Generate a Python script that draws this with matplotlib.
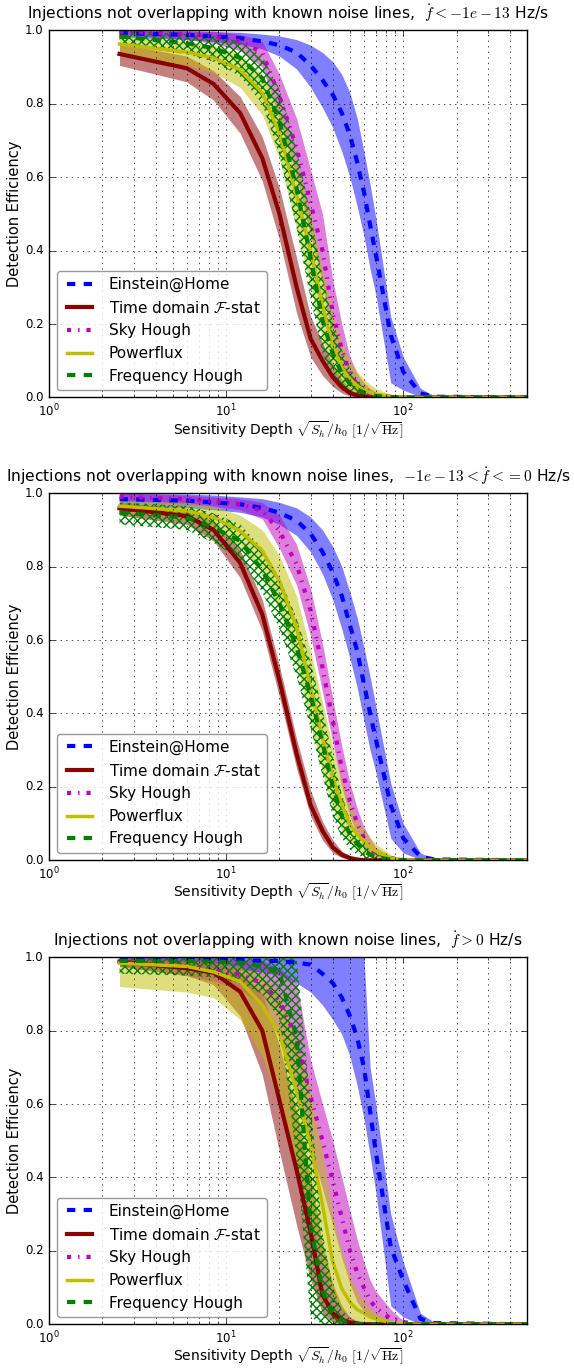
import numpy as np
import matplotlib
matplotlib.use("Agg")
import matplotlib.pyplot as plt

plt.style.use("classic")

# sensitivity depth grid (same for every pipeline)
depth = [2.5, 6, 8.5, 12, 16, 20, 25, 30, 35, 40, 45, 50, 55, 60, 65, 70, 85, 100, 125, 150, 500]

# ---- panel 1: fdot < -1e-13 ----
eah1 = [0.993, 0.988, 0.984, 0.979, 0.970, 0.960, 0.940, 0.905, 0.865, 0.825, 0.775, 0.715, 0.640, 0.560, 0.470, 0.390, 0.170, 0.070, 0.011, 0.002, 0.0]
eah1_hi = [1.0, 0.998, 0.997, 0.995, 0.990, 0.985, 0.975, 0.960, 0.940, 0.915, 0.880, 0.830, 0.760, 0.670, 0.580, 0.490, 0.220, 0.110, 0.025, 0.004, 0.0]
eah1_lo = [0.982, 0.975, 0.970, 0.962, 0.950, 0.930, 0.895, 0.845, 0.790, 0.735, 0.670, 0.600, 0.520, 0.440, 0.350, 0.280, 0.040, 0.020, 0.002, 0.0, 0.0]
td1 = [0.936, 0.897, 0.854, 0.775, 0.652, 0.500, 0.300, 0.160, 0.100, 0.055, 0.028, 0.012, 0.006, 0.003, 0.001, 0.0, 0.0, 0.0, 0.0, 0.0, 0.0]
td1_hi = [0.965, 0.930, 0.890, 0.820, 0.710, 0.570, 0.380, 0.220, 0.150, 0.090, 0.050, 0.025, 0.012, 0.006, 0.003, 0.001, 0.0, 0.0, 0.0, 0.0, 0.0]
td1_lo = [0.905, 0.860, 0.810, 0.720, 0.590, 0.430, 0.230, 0.110, 0.060, 0.030, 0.012, 0.004, 0.001, 0.0, 0.0, 0.0, 0.0, 0.0, 0.0, 0.0, 0.0]
sh1 = [0.997, 0.990, 0.985, 0.970, 0.940, 0.820, 0.680, 0.530, 0.400, 0.230, 0.130, 0.065, 0.035, 0.020, 0.010, 0.006, 0.002, 0.0, 0.0, 0.0, 0.0]
sh1_hi = [1.0, 1.0, 0.998, 0.990, 0.970, 0.880, 0.760, 0.620, 0.500, 0.320, 0.200, 0.110, 0.065, 0.040, 0.025, 0.015, 0.005, 0.001, 0.0, 0.0, 0.0]
sh1_lo = [0.990, 0.975, 0.965, 0.945, 0.900, 0.760, 0.600, 0.440, 0.310, 0.150, 0.070, 0.030, 0.013, 0.006, 0.003, 0.001, 0.0, 0.0, 0.0, 0.0, 0.0]
pf1 = [0.963, 0.941, 0.925, 0.893, 0.830, 0.720, 0.550, 0.400, 0.250, 0.140, 0.080, 0.050, 0.032, 0.020, 0.013, 0.008, 0.003, 0.001, 0.0, 0.0, 0.0]
pf1_hi = [0.985, 0.970, 0.960, 0.935, 0.880, 0.790, 0.640, 0.500, 0.350, 0.230, 0.150, 0.100, 0.070, 0.050, 0.035, 0.025, 0.008, 0.002, 0.0, 0.0, 0.0]
pf1_lo = [0.935, 0.905, 0.885, 0.845, 0.770, 0.650, 0.460, 0.300, 0.160, 0.080, 0.040, 0.020, 0.010, 0.005, 0.003, 0.001, 0.0, 0.0, 0.0, 0.0, 0.0]
fh1 = [0.984, 0.965, 0.952, 0.925, 0.870, 0.750, 0.570, 0.380, 0.210, 0.120, 0.065, 0.037, 0.022, 0.013, 0.008, 0.004, 0.001, 0.0, 0.0, 0.0, 0.0]
fh1_hi = [1.0, 0.990, 0.985, 0.970, 0.930, 0.840, 0.680, 0.500, 0.330, 0.210, 0.130, 0.080, 0.050, 0.030, 0.020, 0.012, 0.003, 0.0, 0.0, 0.0, 0.0]
fh1_lo = [0.962, 0.935, 0.915, 0.875, 0.800, 0.660, 0.460, 0.270, 0.120, 0.050, 0.020, 0.008, 0.003, 0.001, 0.0, 0.0, 0.0, 0.0, 0.0, 0.0, 0.0]

# ---- panel 2: -1e-13 < fdot <= 0 ----
eah2 = [0.984, 0.980, 0.975, 0.970, 0.960, 0.947, 0.925, 0.890, 0.840, 0.785, 0.720, 0.640, 0.570, 0.480, 0.400, 0.330, 0.150, 0.060, 0.010, 0.002, 0.0]
eah2_hi = [1.0, 0.998, 0.995, 0.990, 0.985, 0.975, 0.960, 0.935, 0.900, 0.855, 0.800, 0.730, 0.660, 0.580, 0.500, 0.420, 0.210, 0.100, 0.020, 0.004, 0.0]
eah2_lo = [0.965, 0.960, 0.955, 0.948, 0.935, 0.915, 0.885, 0.840, 0.780, 0.710, 0.630, 0.550, 0.470, 0.380, 0.300, 0.240, 0.060, 0.020, 0.002, 0.0, 0.0]
td2 = [0.959, 0.938, 0.900, 0.810, 0.670, 0.490, 0.290, 0.150, 0.080, 0.035, 0.015, 0.006, 0.002, 0.0, 0.0, 0.0, 0.0, 0.0, 0.0, 0.0, 0.0]
td2_hi = [0.975, 0.955, 0.925, 0.845, 0.710, 0.530, 0.330, 0.190, 0.105, 0.055, 0.025, 0.012, 0.005, 0.002, 0.0, 0.0, 0.0, 0.0, 0.0, 0.0, 0.0]
td2_lo = [0.940, 0.915, 0.870, 0.770, 0.625, 0.445, 0.250, 0.120, 0.055, 0.020, 0.007, 0.002, 0.0, 0.0, 0.0, 0.0, 0.0, 0.0, 0.0, 0.0, 0.0]
sh2 = [0.990, 0.984, 0.979, 0.970, 0.952, 0.897, 0.806, 0.680, 0.525, 0.380, 0.250, 0.160, 0.100, 0.060, 0.035, 0.020, 0.006, 0.001, 0.0, 0.0, 0.0]
sh2_hi = [1.0, 0.995, 0.990, 0.985, 0.975, 0.940, 0.860, 0.740, 0.590, 0.440, 0.310, 0.210, 0.140, 0.090, 0.060, 0.035, 0.010, 0.002, 0.0, 0.0, 0.0]
sh2_lo = [0.980, 0.970, 0.965, 0.955, 0.930, 0.850, 0.750, 0.610, 0.460, 0.320, 0.200, 0.120, 0.070, 0.040, 0.020, 0.010, 0.002, 0.0, 0.0, 0.0, 0.0]
pf2 = [0.965, 0.952, 0.934, 0.897, 0.843, 0.760, 0.634, 0.470, 0.334, 0.225, 0.152, 0.097, 0.070, 0.052, 0.035, 0.025, 0.006, 0.001, 0.0, 0.0, 0.0]
pf2_hi = [0.980, 0.975, 0.965, 0.940, 0.900, 0.830, 0.720, 0.570, 0.430, 0.310, 0.220, 0.150, 0.110, 0.085, 0.060, 0.045, 0.015, 0.004, 0.0, 0.0, 0.0]
pf2_lo = [0.950, 0.930, 0.905, 0.855, 0.780, 0.680, 0.540, 0.370, 0.240, 0.140, 0.080, 0.050, 0.030, 0.020, 0.012, 0.008, 0.002, 0.0, 0.0, 0.0, 0.0]
fh2 = [0.947, 0.934, 0.906, 0.870, 0.790, 0.700, 0.580, 0.450, 0.320, 0.200, 0.120, 0.070, 0.045, 0.025, 0.015, 0.008, 0.002, 0.0, 0.0, 0.0, 0.0]
fh2_hi = [0.975, 0.965, 0.945, 0.915, 0.850, 0.770, 0.660, 0.540, 0.410, 0.280, 0.180, 0.110, 0.070, 0.045, 0.030, 0.018, 0.005, 0.0, 0.0, 0.0, 0.0]
fh2_lo = [0.915, 0.900, 0.865, 0.820, 0.730, 0.630, 0.500, 0.360, 0.230, 0.120, 0.060, 0.030, 0.015, 0.007, 0.003, 0.001, 0.0, 0.0, 0.0, 0.0, 0.0]

# ---- panel 3: fdot > 0 ----
eah3 = [0.995, 0.995, 0.995, 0.993, 0.990, 0.990, 0.985, 0.980, 0.955, 0.930, 0.890, 0.840, 0.780, 0.700, 0.580, 0.470, 0.210, 0.120, 0.015, 0.003, 0.0]
eah3_hi = [1.0, 1.0, 1.0, 1.0, 1.0, 1.0, 1.0, 1.0, 1.0, 1.0, 1.0, 1.0, 1.0, 1.0, 0.700, 0.600, 0.300, 0.170, 0.030, 0.005, 0.0]
eah3_lo = [0.975, 0.972, 0.970, 0.965, 0.960, 0.950, 0.930, 0.905, 0.870, 0.830, 0.790, 0.730, 0.650, 0.560, 0.460, 0.360, 0.050, 0.020, 0.0, 0.0, 0.0]
td3 = [0.988, 0.970, 0.958, 0.906, 0.800, 0.610, 0.420, 0.250, 0.080, 0.030, 0.012, 0.005, 0.002, 0.0, 0.0, 0.0, 0.0, 0.0, 0.0, 0.0, 0.0]
td3_hi = [0.995, 0.990, 0.985, 0.960, 0.900, 0.760, 0.580, 0.400, 0.220, 0.110, 0.050, 0.020, 0.010, 0.005, 0.002, 0.0, 0.0, 0.0, 0.0, 0.0, 0.0]
td3_lo = [0.975, 0.950, 0.925, 0.840, 0.680, 0.470, 0.270, 0.120, 0.030, 0.005, 0.0, 0.0, 0.0, 0.0, 0.0, 0.0, 0.0, 0.0, 0.0, 0.0, 0.0]
sh3 = [0.990, 0.975, 0.965, 0.952, 0.930, 0.880, 0.780, 0.620, 0.500, 0.390, 0.290, 0.200, 0.140, 0.100, 0.065, 0.045, 0.015, 0.006, 0.0, 0.0, 0.0]
sh3_hi = [1.0, 1.0, 1.0, 0.995, 0.990, 0.970, 0.930, 0.720, 0.600, 0.500, 0.400, 0.310, 0.230, 0.170, 0.120, 0.090, 0.040, 0.010, 0.0, 0.0, 0.0]
sh3_lo = [0.975, 0.950, 0.935, 0.910, 0.870, 0.790, 0.640, 0.480, 0.370, 0.270, 0.180, 0.110, 0.060, 0.035, 0.020, 0.010, 0.002, 0.0, 0.0, 0.0, 0.0]
pf3 = [0.984, 0.975, 0.960, 0.934, 0.870, 0.790, 0.634, 0.488, 0.325, 0.170, 0.097, 0.060, 0.040, 0.030, 0.020, 0.015, 0.004, 0.001, 0.0, 0.0, 0.0]
pf3_hi = [0.995, 0.990, 0.985, 0.975, 0.950, 0.900, 0.780, 0.640, 0.470, 0.300, 0.200, 0.130, 0.090, 0.065, 0.045, 0.030, 0.008, 0.002, 0.0, 0.0, 0.0]
pf3_lo = [0.920, 0.905, 0.890, 0.830, 0.730, 0.600, 0.440, 0.300, 0.170, 0.080, 0.040, 0.020, 0.010, 0.005, 0.002, 0.0, 0.0, 0.0, 0.0, 0.0, 0.0]
fh3 = [0.990, 0.990, 0.988, 0.985, 0.975, 0.960, 0.780, 0.270, 0.090, 0.030, 0.010, 0.004, 0.001, 0.0, 0.0, 0.0, 0.0, 0.0, 0.0, 0.0, 0.0]
fh3_hi = [1.0, 1.0, 1.0, 1.0, 1.0, 1.0, 1.0, 0.600, 0.250, 0.100, 0.040, 0.015, 0.005, 0.002, 0.0, 0.0, 0.0, 0.0, 0.0, 0.0, 0.0]
fh3_lo = [0.955, 0.950, 0.945, 0.930, 0.900, 0.830, 0.450, 0.020, 0.0, 0.0, 0.0, 0.0, 0.0, 0.0, 0.0, 0.0, 0.0, 0.0, 0.0, 0.0, 0.0]

titles = [r"Injections not overlapping with known noise lines,  $\dot{f} < -1e-13$ Hz/s",
          r"Injections not overlapping with known noise lines,  $-1e-13 < \dot{f} <= 0$ Hz/s",
          r"Injections not overlapping with known noise lines,  $\dot{f} > 0$ Hz/s"]

panels = [
    (eah1, eah1_lo, eah1_hi, td1, td1_lo, td1_hi, sh1, sh1_lo, sh1_hi, pf1, pf1_lo, pf1_hi, fh1, fh1_lo, fh1_hi),
    (eah2, eah2_lo, eah2_hi, td2, td2_lo, td2_hi, sh2, sh2_lo, sh2_hi, pf2, pf2_lo, pf2_hi, fh2, fh2_lo, fh2_hi),
    (eah3, eah3_lo, eah3_hi, td3, td3_lo, td3_hi, sh3, sh3_lo, sh3_hi, pf3, pf3_lo, pf3_hi, fh3, fh3_lo, fh3_hi),
]

fig = plt.figure(figsize=(5.74, 13.72), dpi=100, facecolor="white")
bottoms = [0.7103, 0.3730, 0.0348]

for k in range(3):
    (eah, eah_lo, eah_hi, td, td_lo, td_hi, sh, sh_lo, sh_hi,
     pf, pf_lo, pf_hi, fh, fh_lo, fh_hi) = panels[k]
    ax = fig.add_axes([0.0854, bottoms[k], 0.8328, 0.2675])
    ax.set_xscale("log")

    # error bands
    ax.fill_between(depth, eah_lo, eah_hi, color="b", alpha=0.5, lw=0)
    ax.fill_between(depth, td_lo, td_hi, color="darkred", alpha=0.5, lw=0)
    ax.fill_between(depth, sh_lo, sh_hi, color="m", alpha=0.5, lw=0)
    ax.fill_between(depth, pf_lo, pf_hi, color="y", alpha=0.5, lw=0)
    ax.fill_between(depth, fh_lo, fh_hi, facecolor="none", edgecolor="g", hatch="xxxx", lw=0)

    # central curves
    ax.plot(depth, eah, "b--", lw=3, label="Einstein@Home")
    ax.plot(depth, td, "-", color="darkred", lw=3, label=r"Time domain $\mathcal{F}$-stat")
    ax.plot(depth, sh, "m-.", lw=3, label="Sky Hough")
    ax.plot(depth, pf, "y-", lw=2.5, label="Powerflux")
    ax.plot(depth, fh, "g--", lw=3, label="Frequency Hough")

    ax.set_xlim(1, 500)
    ax.set_ylim(0, 1)
    ax.grid(True, which="both")
    ax.tick_params(labelsize=8.5)
    ax.set_xlabel(r"Sensitivity Depth $\sqrt{S_h}/h_0\ [1/\sqrt{\mathrm{Hz}}]$", fontsize=10, labelpad=0)
    ax.set_ylabel("Detection Efficiency", fontsize=10.5, labelpad=2)
    ax.set_title(titles[k], fontsize=11.2, pad=8)
    leg = ax.legend(loc="lower left", fontsize=11, fancybox=True, handlelength=2.2)
    leg.get_frame().set_edgecolor("0.5")
    leg.get_frame().set_alpha(0.8)

fig.savefig("out.png", dpi=100, facecolor="white")
